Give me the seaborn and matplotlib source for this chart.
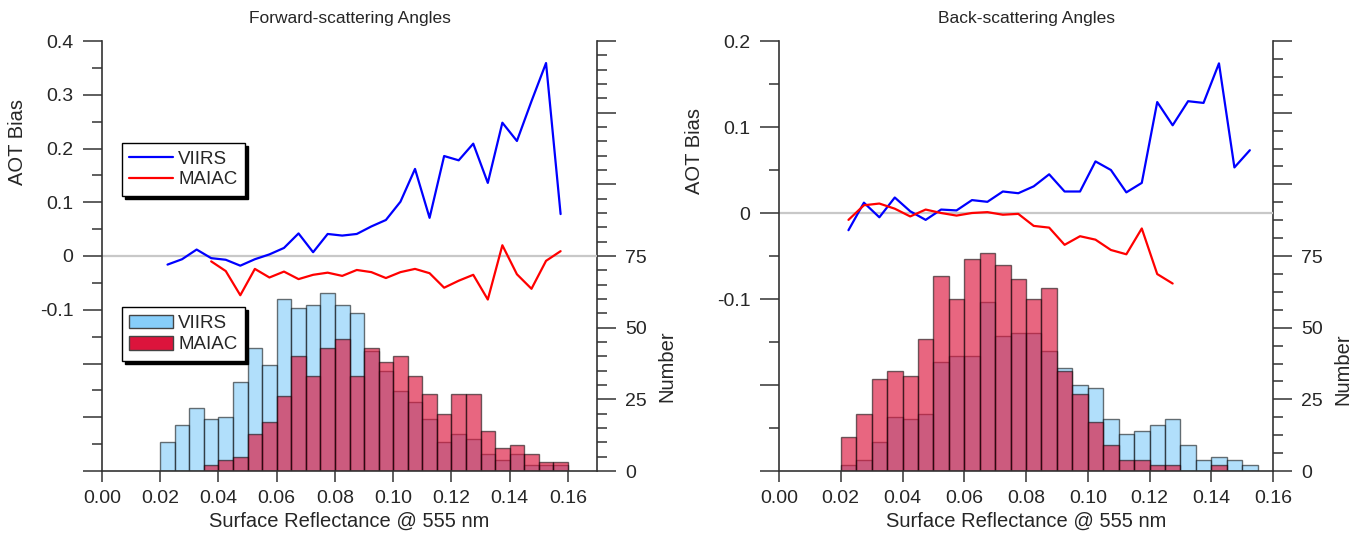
import matplotlib
matplotlib.use("Agg")
import matplotlib.pyplot as plt
from matplotlib.lines import Line2D
from matplotlib.patches import Patch
from matplotlib.ticker import MultipleLocator
import seaborn as sns

# ---------------- data ----------------
# Forward-scattering panel
fwd_bin_centers = [0.0225, 0.0275, 0.0325, 0.0375, 0.0425, 0.0475, 0.0525, 0.0575,
                   0.0625, 0.0675, 0.0725, 0.0775, 0.0825, 0.0875, 0.0925, 0.0975,
                   0.1025, 0.1075, 0.1125, 0.1175, 0.1225, 0.1275, 0.1325, 0.1375,
                   0.1425, 0.1475, 0.1525, 0.1575]
fwd_viirs_counts = [10, 16, 22, 18, 19, 31, 43, 37, 60, 57, 58, 62, 58, 55,
                    42, 35, 28, 24, 18, 10, 13, 11, 6, 4, 6, 2, 2, 2]
fwd_maiac_counts = [0, 0, 0, 2, 4, 5, 13, 17, 26, 40, 33, 43, 46, 33,
                    43, 38, 40, 33, 27, 20, 27, 27, 14, 8, 9, 6, 3, 3]
fwd_viirs_bias = [-0.016, -0.006, 0.012, -0.004, -0.007, -0.018, -0.006, 0.003,
                  0.015, 0.042, 0.007, 0.041, 0.038, 0.041, 0.055, 0.067,
                  0.101, 0.162, 0.071, 0.186, 0.178, 0.209, 0.136, 0.248,
                  0.214, 0.288, 0.359, 0.078]
fwd_maiac_bias_x = [0.0375, 0.0425, 0.0475, 0.0525, 0.0575, 0.0625, 0.0675, 0.0725,
                    0.0775, 0.0825, 0.0875, 0.0925, 0.0975, 0.1025, 0.1075, 0.1125,
                    0.1175, 0.1225, 0.1275, 0.1325, 0.1375, 0.1425, 0.1475, 0.1525,
                    0.1575]
fwd_maiac_bias = [-0.010, -0.028, -0.073, -0.024, -0.040, -0.029, -0.043, -0.035,
                  -0.031, -0.037, -0.026, -0.030, -0.041, -0.030, -0.024, -0.032,
                  -0.059, -0.046, -0.035, -0.081, 0.020, -0.034, -0.061, -0.009,
                  0.009]

# Back-scattering panel
back_bin_centers = [0.0225, 0.0275, 0.0325, 0.0375, 0.0425, 0.0475, 0.0525, 0.0575,
                    0.0625, 0.0675, 0.0725, 0.0775, 0.0825, 0.0875, 0.0925, 0.0975,
                    0.1025, 0.1075, 0.1125, 0.1175, 0.1225, 0.1275, 0.1325, 0.1375,
                    0.1425, 0.1475, 0.1525]
back_viirs_counts = [2, 4, 10, 19, 18, 20, 38, 40, 40, 59, 47, 48, 48, 42,
                     36, 30, 29, 18, 13, 14, 16, 18, 9, 4, 5, 4, 2]
back_maiac_counts = [12, 20, 32, 35, 33, 46, 68, 60, 74, 76, 72, 67, 60, 64,
                     35, 27, 17, 9, 4, 4, 2, 2, 0, 0, 2, 0, 0]
back_viirs_bias = [-0.020, 0.012, -0.005, 0.018, 0.002, -0.008, 0.004, 0.003,
                   0.015, 0.013, 0.025, 0.023, 0.031, 0.045, 0.025, 0.025,
                   0.060, 0.050, 0.024, 0.035, 0.129, 0.102, 0.130, 0.128,
                   0.174, 0.053, 0.073]
back_maiac_bias_x = [0.0225, 0.0275, 0.0325, 0.0375, 0.0425, 0.0475, 0.0525, 0.0575,
                     0.0625, 0.0675, 0.0725, 0.0775, 0.0825, 0.0875, 0.0925, 0.0975,
                     0.1025, 0.1075, 0.1125, 0.1175, 0.1225, 0.1275]
back_maiac_bias = [-0.008, 0.009, 0.011, 0.005, -0.004, 0.004, 0.000, -0.003,
                   0.000, 0.001, -0.002, -0.001, -0.015, -0.017, -0.037, -0.027,
                   -0.031, -0.043, -0.048, -0.018, -0.071, -0.082]

# ticks / labels
x_tick_values = [0.00, 0.02, 0.04, 0.06, 0.08, 0.10, 0.12, 0.14, 0.16]
x_tick_labels = ["0.00", "0.02", "0.04", "0.06", "0.08", "0.10", "0.12", "0.14", "0.16"]
fwd_bias_ticks = [-0.4, -0.3, -0.2, -0.1, 0.0, 0.1, 0.2, 0.3, 0.4]
fwd_bias_labels = ["", "", "", "-0.1", "0", "0.1", "0.2", "0.3", "0.4"]
back_bias_ticks = [-0.3, -0.2, -0.1, 0.0, 0.1, 0.2]
back_bias_labels = ["", "", "-0.1", "0", "0.1", "0.2"]
count_ticks = [0, 25, 50, 75, 100, 125, 150]
count_labels = ["0", "25", "50", "75", "", "", ""]

series_names = ["VIIRS", "MAIAC"]
titles = ["Forward-scattering Angles", "Back-scattering Angles"]

# ---------------- style ----------------
sns.set_style("white")
plt.rcParams["font.family"] = ["Liberation Sans", "DejaVu Sans"]
plt.rcParams["axes.unicode_minus"] = False

LINE_BLUE = "#0000FF"
LINE_RED = "#FF0000"
HIST_BLUE = "#87CEFA"
HIST_RED = "#DC143C"
SPINE = "#333333"
EDGE = (0.0, 0.0, 0.0, 0.55)
FS = 14

fig = plt.figure(figsize=(13.65, 5.34), dpi=100)


def draw_panel(rect, title, centers, viirs_counts, maiac_counts,
               viirs_x, viirs_bias, maiac_x, maiac_bias,
               xmax, bias_ticks, bias_labels, count_minor,
               show_legends, ylab_y, num_y):
    ax = fig.add_axes(rect)
    ax2 = ax.twinx()

    nb = len(centers)
    lo = centers[0] - 0.0025
    hi = centers[-1] + 0.0025
    sns.histplot(x=centers, weights=viirs_counts, bins=nb, binrange=(lo, hi),
                 color=HIST_BLUE, alpha=0.65, edgecolor=EDGE, linewidth=1.0,
                 ax=ax2)
    sns.histplot(x=centers, weights=maiac_counts, bins=nb, binrange=(lo, hi),
                 color=HIST_RED, alpha=0.65, edgecolor=EDGE, linewidth=1.0,
                 ax=ax2)
    for p in ax2.patches:
        p.set_edgecolor(EDGE)

    ax.axhline(0, color="#C8C8C8", lw=1.6, zorder=1)
    sns.lineplot(x=viirs_x, y=viirs_bias, color=LINE_BLUE, lw=1.6, sort=False,
                 estimator=None, ax=ax, zorder=3)
    sns.lineplot(x=maiac_x, y=maiac_bias, color=LINE_RED, lw=1.6, sort=False,
                 estimator=None, ax=ax, zorder=3)

    ax.set_zorder(ax2.get_zorder() + 1)
    ax.patch.set_visible(False)

    ax.set_xlim(0, xmax)
    ax.set_ylim(bias_ticks[0], bias_ticks[-1])
    ax2.set_ylim(count_ticks[0], count_ticks[-1])

    ax.set_xticks(x_tick_values, x_tick_labels)
    ax.set_yticks(bias_ticks, bias_labels)
    ax.yaxis.set_minor_locator(MultipleLocator(0.05))
    ax2.set_yticks(count_ticks, count_labels)
    ax2.yaxis.set_minor_locator(MultipleLocator(count_minor))

    ax.tick_params(axis="x", which="major", direction="out", length=8, width=1.1,
                   color=SPINE, labelsize=FS, pad=6, bottom=True, top=False)
    ax.tick_params(axis="y", which="major", direction="out", length=13.5, width=1.1,
                   color=SPINE, labelsize=FS, pad=7, left=True, right=False)
    ax.tick_params(axis="y", which="minor", direction="out", length=7, width=1.1,
                   color=SPINE, left=True, right=False)
    ax2.tick_params(axis="y", which="major", direction="out", length=13.5, width=1.1,
                    color=SPINE, labelsize=FS, pad=7, right=True, left=False)
    ax2.tick_params(axis="y", which="minor", direction="out", length=7, width=1.1,
                    color=SPINE, right=True, left=False)

    for s in ["top", "right"]:
        ax.spines[s].set_visible(False)
    for s in ["top", "left", "bottom"]:
        ax2.spines[s].set_visible(False)
    for sp in [ax.spines["left"], ax.spines["bottom"], ax2.spines["right"]]:
        sp.set_color(SPINE)
        sp.set_linewidth(1.2)

    ax.set_title(title, fontsize=12.5, pad=13)
    ax.set_xlabel("Surface Reflectance @ 555 nm", fontsize=14.5, labelpad=3)
    ax.set_ylabel("AOT Bias", fontsize=14.5)
    ax.yaxis.set_label_coords(-0.152, ylab_y)
    ax2.set_ylabel("Number", fontsize=14.5)
    ax2.yaxis.set_label_coords(1.122, num_y)

    if show_legends:
        line_handles = [Line2D([0], [0], color=LINE_BLUE, lw=1.6),
                        Line2D([0], [0], color=LINE_RED, lw=1.6)]
        shadow = {"facecolor": "black", "edgecolor": "black", "alpha": 1.0}
        leg1 = ax.legend(line_handles, series_names, loc="upper left",
                         bbox_to_anchor=(0.0404, 0.763), borderaxespad=0,
                         fontsize=13.5, frameon=True, fancybox=False,
                         edgecolor="black", framealpha=1, shadow=shadow,
                         handlelength=2.3, handletextpad=0.3, labelspacing=0.2,
                         borderpad=0.4)
        leg1.get_frame().set_linewidth(1.0)
        ax.add_artist(leg1)
        patch_handles = [Patch(facecolor=HIST_BLUE, edgecolor="#444444"),
                         Patch(facecolor=HIST_RED, edgecolor="#444444")]
        leg2 = ax.legend(patch_handles, series_names, loc="upper left",
                         bbox_to_anchor=(0.0404, 0.381), borderaxespad=0,
                         fontsize=13.5, frameon=True, fancybox=False,
                         edgecolor="black", framealpha=1, shadow=shadow,
                         handlelength=2.3, handleheight=0.75, handletextpad=0.3,
                         labelspacing=0.2, borderpad=0.4)
        leg2.get_frame().set_linewidth(1.0)


draw_panel([102 / 1365, 63 / 534, 495 / 1365, 430 / 534], titles[0],
           fwd_bin_centers, fwd_viirs_counts, fwd_maiac_counts,
           fwd_bin_centers, fwd_viirs_bias, fwd_maiac_bias_x, fwd_maiac_bias,
           0.17, fwd_bias_ticks, fwd_bias_labels, 5, True, 0.765, 0.244)

draw_panel([779 / 1365, 63 / 534, 494 / 1365, 430 / 534], titles[1],
           back_bin_centers, back_viirs_counts, back_maiac_counts,
           back_bin_centers, back_viirs_bias, back_maiac_bias_x, back_maiac_bias,
           0.16, back_bias_ticks, back_bias_labels, 6.25, False, 0.744, 0.237)

fig.savefig("out.png", dpi=100, facecolor="white")
